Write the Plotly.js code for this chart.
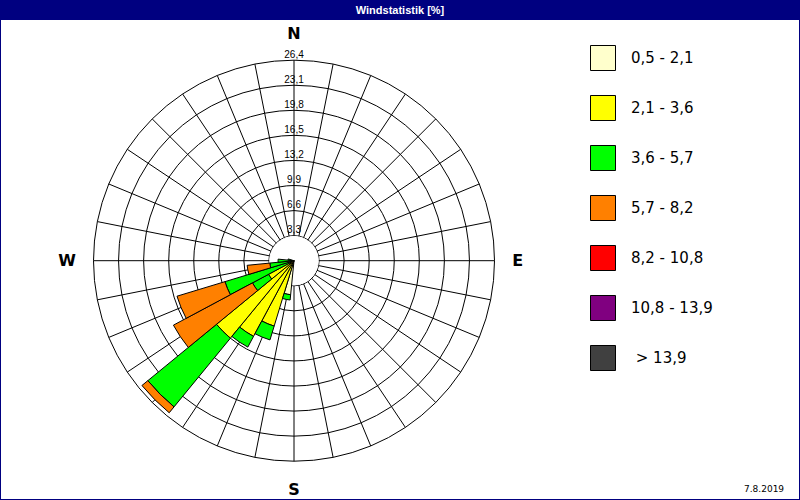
<!DOCTYPE html>
<html><head><meta charset="utf-8">
<script src="https://cdn.plot.ly/plotly-3.0.1.min.js"></script>
<style>html,body{margin:0;padding:0;background:#fff}#chart{width:800px;height:500px}</style>
</head><body><div id="chart"></div>
<script>
// 32 wind directions (degrees, compass), only non-empty sectors listed
const directions = [191.25, 202.5, 213.75, 225, 236.25, 247.5, 258.75, 270, 281.25];
// frequency [%] per speed class (m/s) and direction
const speed05_21  = [4.5, 0.3, 0.3, 0.3, 0.3, 0.2, 0.2, 0.2, 0.1];
const speed21_36  = [0, 8.7, 11.0, 12.9, 3.5, 0.5, 0.3, 0.2, 0.1];
const speed36_57  = [0.7, 1.9, 1.6, 11.7, 2.4, 8.8, 2.7, 1.7, 0.6];
const speed57_82  = [0, 0, 0, 1.0, 11.8, 6.6, 3.0, 0, 0];
const speed82_108 = [0, 0, 0, 0, 0, 0, 0, 0, 0];
const speed108_139 = [0, 0, 0, 0, 0, 0, 0, 0, 0];
const speedOver139 = [0, 0, 0, 0, 0, 0, 0, 0, 0];
const classLabels = ['0,5 - 2,1', '2,1 - 3,6', '3,6 - 5,7', '5,7 - 8,2', '8,2 - 10,8', '10,8 - 13,9', '\u00a0> 13,9'];
const classColors = ['#FFFFCC', '#FFFF00', '#00FF00', '#FF8000', '#FF0000', '#800080', '#404040'];
const ringValues = [3.3, 6.6, 9.9, 13.2, 16.5, 19.8, 23.1, 26.4];
const ringLabels = ['3,3', '6,6', '9,9', '13,2', '16,5', '19,8', '23,1', '26,4'];
const cardinalAngles = [0, 90, 180, 270];
const cardinalLabels = ['N', 'E', 'S', 'W'];
const chartTitle = 'Windstatistik [%]';
const dateLabel = '7.8.2019';

const sectorCount = 32;
const rMax = 26.4;
const series = [speed05_21, speed21_36, speed36_57, speed57_82, speed82_108, speed108_139, speedOver139];
const navy = '#000080';

// angular ticks every sector; only cardinal points are labelled
const spokeAngles = Array.from({length: sectorCount}, (_, i) => i * 360 / sectorCount);
const spokeText = spokeAngles.map(a => {
  const k = cardinalAngles.indexOf(a);
  return k >= 0 ? '<b>' + cardinalLabels[k] + '</b>' : '';
});

const traces = [];
// white hub covering the spokes in the centre (grid subplot)
traces.push({
  type: 'barpolar', subplot: 'polar', r: [3.2, 3.2], theta: [90, 270], width: [180, 180],
  marker: {color: '#ffffff', line: {color: '#ffffff', width: 1}},
  hoverinfo: 'skip', showlegend: false
});
// stacked wind bars
series.forEach((vals, i) => {
  if (!vals.some(v => v > 0)) return;
  traces.push({
    type: 'barpolar', subplot: 'polar2',
    r: vals.map(v => v > 0 ? v : null), theta: directions,
    width: directions.map(() => 360 / sectorCount),
    marker: {color: classColors[i], line: {color: '#000000', width: 1}},
    name: classLabels[i], showlegend: false
  });
});
// ring labels along north spoke
traces.push({
  type: 'scatterpolar', subplot: 'polar2', mode: 'text',
  r: ringValues, theta: ringValues.map(() => 0), text: ringLabels,
  textposition: 'top center', cliponaxis: false,
  textfont: {family: 'Liberation Sans, Arial, sans-serif', size: 10, color: '#000'},
  hoverinfo: 'skip', showlegend: false
});
// custom legend (big squares)
traces.push({
  type: 'scatter', mode: 'markers', xaxis: 'x', yaxis: 'y',
  x: classLabels.map(() => 603), y: classLabels.map((_, i) => 58 + 50 * i),
  marker: {symbol: 'square', size: 25, color: classColors, line: {color: '#000', width: 1}},
  hoverinfo: 'skip', showlegend: false, cliponaxis: false
});

const annotations = classLabels.map((t, i) => ({
  xref: 'x', yref: 'y', x: 629, y: 58 + 50 * i, text: t, showarrow: false,
  xanchor: 'left', yanchor: 'middle',
  font: {family: 'DejaVu Sans, sans-serif', size: 15, color: '#000'}
}));
annotations.push({
  xref: 'paper', yref: 'paper', x: 786 / 800, y: 1 - 489 / 500, text: dateLabel, showarrow: false,
  xanchor: 'right', yanchor: 'middle',
  font: {family: 'DejaVu Sans, sans-serif', size: 9, color: '#000'}
});

const dom = {x: [93.5 / 800, 494.5 / 800], y: [1 - 461.2 / 500, 1 - 60.2 / 500]};

const layout = {
  width: 800, height: 500,
  margin: {l: 0, r: 0, t: 0, b: 0},
  paper_bgcolor: '#ffffff', plot_bgcolor: 'rgba(0,0,0,0)',
  showlegend: false,
  title: {text: chartTitle, x: 0.5, xanchor: 'center', y: 1 - 10.5 / 500, yanchor: 'middle', yref: 'paper',
    font: {family: 'Liberation Sans, Arial, sans-serif', size: 11, color: '#ffffff', weight: 'bold'}},
  xaxis: {range: [0, 800], domain: [0, 1], visible: false, fixedrange: true},
  yaxis: {range: [500, 0], domain: [0, 1], visible: false, fixedrange: true},
  polar: {
    domain: dom, bgcolor: '#ffffff',
    radialaxis: {range: [0, rMax], tickmode: 'array', tickvals: ringValues, showticklabels: false,
      ticks: '', showline: false, gridcolor: '#000000', gridwidth: 1},
    angularaxis: {rotation: 90, direction: 'clockwise', tickmode: 'array', tickvals: spokeAngles, ticktext: spokeText,
      showticklabels: true, ticks: 'outside', ticklen: 14, tickcolor: 'rgba(0,0,0,0)',
      tickfont: {family: 'DejaVu Sans, sans-serif', size: 16, color: '#000000'},
      showline: true, linecolor: '#000000', linewidth: 1,
      gridcolor: '#000000', gridwidth: 1}
  },
  polar2: {
    domain: dom, bgcolor: 'rgba(0,0,0,0)', barmode: 'stack',
    radialaxis: {range: [0, rMax], visible: false, showgrid: false, showline: false, showticklabels: false, ticks: ''},
    angularaxis: {rotation: 90, direction: 'clockwise', visible: false, showgrid: false, showline: false,
      showticklabels: false, ticks: ''}
  },
  shapes: [
    {type: 'rect', xref: 'paper', yref: 'paper', x0: 0, x1: 1, y0: 1 - 20 / 500, y1: 1,
      fillcolor: navy, line: {width: 0}, layer: 'below'},
    {type: 'rect', xref: 'paper', yref: 'paper', x0: 0, x1: 1, y0: 0, y1: 1,
      fillcolor: 'rgba(0,0,0,0)', line: {color: navy, width: 2}, layer: 'above'}
  ],
  annotations: annotations
};

Plotly.newPlot('chart', traces, layout, {displayModeBar: false, staticPlot: true});
</script>
</body></html>
